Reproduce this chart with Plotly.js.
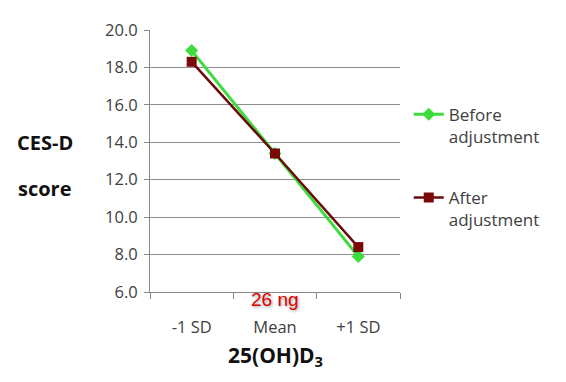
<!DOCTYPE html>
<html><head><meta charset="utf-8">
<script src="https://cdn.plot.ly/plotly-3.0.1.min.js"></script>
<style>html,body{margin:0;padding:0;background:#fff}#c{width:566px;height:382px}</style>
</head><body><div id="c"></div>
<script>
const categories = ['-1 SD', 'Mean', '+1 SD'];
const beforeValues = [18.9, 13.4, 7.9];
const afterValues = [18.3, 13.4, 8.4];
const seriesNames = ['Before<br>adjustment', 'After<br>adjustment'];
const yTitleLines = ['CES-D', 'score'];
const xTitle = '25(OH)D<sub>3</sub>';
const meanNote = '26 ng';

const font = 'Open Sans, Liberation Sans, sans-serif';
const traces = [
  {x: categories, y: beforeValues, name: seriesNames[0], type: 'scatter', mode: 'lines+markers',
   legendgroup: 'a', line: {color: '#3ddc3d', width: 3},
   marker: {symbol: 'diamond', size: 10, color: '#3ddc3d'}},
  {x: categories, y: afterValues, name: seriesNames[1], type: 'scatter', mode: 'lines+markers',
   legendgroup: 'b', line: {color: '#6b0a0a', width: 2.5},
   marker: {symbol: 'square', size: 10, color: '#7a0a0a'}}
];
const layout = {
  width: 566, height: 382,
  margin: {l: 150, r: 166, t: 30, b: 90},
  paper_bgcolor: '#fff', plot_bgcolor: '#fff',
  font: {family: font, size: 16, color: '#404040'},
  showlegend: true,
  legend: {x: 1.035, y: 0.745, xanchor: 'left', yanchor: 'top', traceorder: 'grouped', valign: 'top',
           tracegroupgap: 36, font: {size: 17, color: '#404040'}, itemwidth: 30},
  xaxis: {type: 'category', range: [-0.5, 2.5], tickson: 'boundaries', ticks: 'outside', ticklen: 6, tickcolor: '#868686',
          showgrid: false, showline: true, linecolor: '#868686', linewidth: 1, ticklabelstandoff: 20,
          tickfont: {size: 16.5, color: '#404040'}, zeroline: false},
  yaxis: {range: [6, 20], dtick: 2, tickformat: '.1f', ticks: 'outside', ticklen: 5, tickcolor: '#868686',
          showline: true, linecolor: '#868686', linewidth: 1, gridcolor: '#8c8c8c', gridwidth: 1,
          ticklabelstandoff: 3, zeroline: false, tickfont: {size: 16.5, color: '#404040'}},
  annotations: [
    {text: '<b>' + yTitleLines[0] + '</b>', xref: 'paper', yref: 'paper', x: -0.42, y: 0.57,
     showarrow: false, xanchor: 'center', yanchor: 'middle', font: {size: 20, color: '#111'}},
    {text: '<b>' + yTitleLines[1] + '</b>', xref: 'paper', yref: 'paper', x: -0.42, y: 0.396,
     showarrow: false, xanchor: 'center', yanchor: 'middle', font: {size: 20, color: '#111'}},
    {text: '<b>' + xTitle + '</b>', xref: 'paper', yref: 'paper', x: 0.5, y: -0.245,
     showarrow: false, yanchor: 'middle', font: {size: 21, color: '#111'}},
    {text: meanNote, xref: 'x', yref: 'paper', x: 'Mean', y: -0.03, showarrow: false, yanchor: 'middle',
     font: {size: 19, color: '#e00000', family: 'Liberation Sans, sans-serif', shadow: '1px 1px 3px #999'}}
  ]
};
Plotly.newPlot('c', traces, layout, {displayModeBar: false, staticPlot: true});
</script></body></html>
